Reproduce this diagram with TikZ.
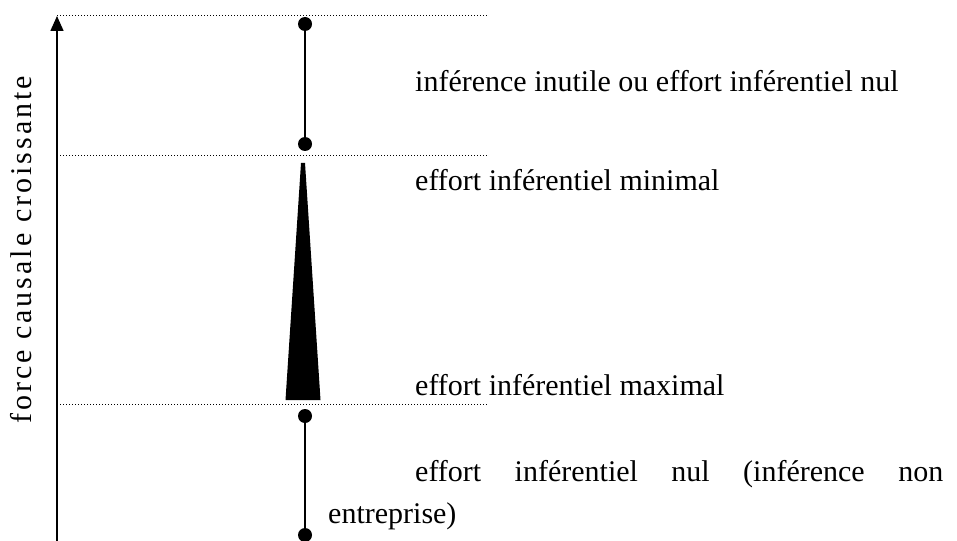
\documentclass[tikz,border=0pt]{standalone}
\usepackage{fontspec}
\setmainfont{Liberation Serif}
\newfontfamily\spacedfont[LetterSpace=10]{Liberation Serif}
\usetikzlibrary{arrows.meta}
\begin{document}
\begin{tikzpicture}[x=1pt,y=-1pt,
  lbl/.style={anchor=base west, inner sep=0pt, font=\fontsize{30}{36}\selectfont},
  guide/.style={line width=1pt, dash pattern=on 1pt off 2pt},
  dot/.style={circle, fill=black, minimum size=14pt, inner sep=0pt},
  stem/.style={line width=1.6pt}]
\useasboundingbox (0,0) rectangle (957,540);
% axis arrow
\coordinate (abot) at (57,545);
\coordinate (atop) at (57,16);
\draw[line width=1.6pt, -{Triangle[length=15pt,width=13pt]}] (abot) -- (atop);
\node[anchor=base west, rotate=90, inner sep=0pt, font=\spacedfont\fontsize{30}{36}\selectfont] (axis) at (31,424) {force causale croissante};
% guides
\coordinate (g1a) at (57,16);  \coordinate (g1b) at (488,16);
\coordinate (g2a) at (57,156); \coordinate (g2b) at (488,156);
\coordinate (g3a) at (57,404); \coordinate (g3b) at (488,404);
\draw[guide] (g1a) -- (g1b);
\draw[guide] (g2a) -- (g2b);
\draw[guide] (g3a) -- (g3b);
% top segment
\node[dot] (d1) at (305,24) {};
\node[dot] (d2) at (305,144) {};
\draw[stem] (d1) -- (d2);
% wedge
\fill (301,163) -- (305,163) -- (320.5,400) -- (285.5,400) -- cycle;
% bottom segment
\node[dot] (d3) at (305,416) {};
\node[dot] (d4) at (305,535) {};
\draw[stem] (d3) -- (d4);
% labels
\node[lbl] (t1) at (415,92) {inférence inutile ou effort inférentiel nul};
\node[lbl] (t2) at (415,190) {effort inférentiel minimal};
\node[lbl] (t3) at (415,395) {effort inférentiel maximal};
\node[lbl] (t4) at (415,481) {\makebox[528pt][s]{effort\hfill inférentiel\hfill nul\hfill (inférence\hfill non}};
\node[lbl] (t5) at (328,523) {entreprise)};
\end{tikzpicture}
\end{document}
